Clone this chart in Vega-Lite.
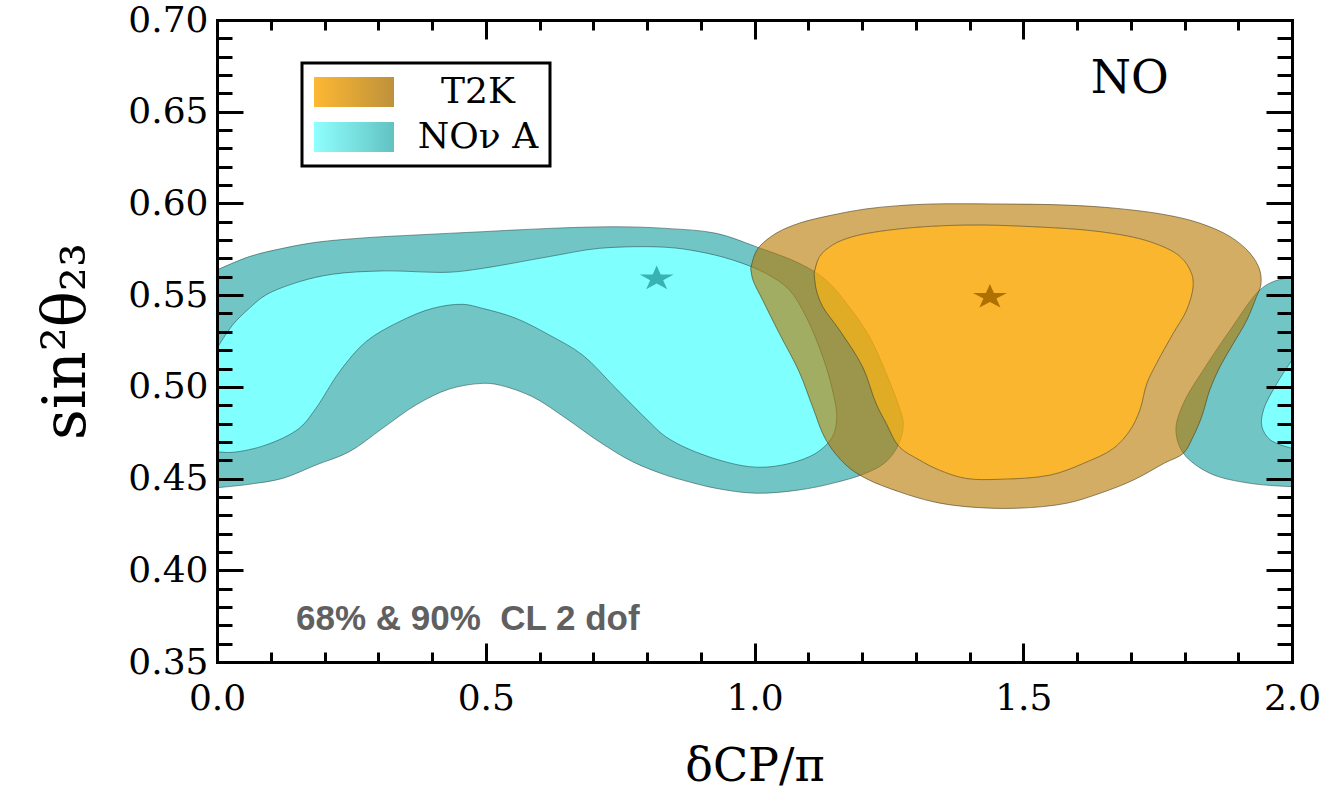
{
"$schema": "https://vega.github.io/schema/vega-lite/v6.json",
"width": 1075, "height": 642,
"autosize": {"type": "none"},
"padding": {"left": 217, "top": 20, "right": 36, "bottom": 139},
"background": "white",
"config": {"view": {"stroke": null}, "axis": {"grid": false}, "legend": {"strokeWidth": 3}},
"datasets": {
"nova": [
{"band":"outer","piece":"main","i":1,"x":0,"y":0.5637},
{"band":"outer","piece":"main","i":2,"x":0.060,"y":0.5710},
{"band":"outer","piece":"main","i":3,"x":0.122,"y":0.5755},
{"band":"outer","piece":"main","i":4,"x":0.184,"y":0.5788},
{"band":"outer","piece":"main","i":5,"x":0.277,"y":0.5813},
{"band":"outer","piece":"main","i":6,"x":0.370,"y":0.5828},
{"band":"outer","piece":"main","i":7,"x":0.494,"y":0.5846},
{"band":"outer","piece":"main","i":8,"x":0.618,"y":0.5864},
{"band":"outer","piece":"main","i":9,"x":0.742,"y":0.5873},
{"band":"outer","piece":"main","i":10,"x":0.835,"y":0.5864},
{"band":"outer","piece":"main","i":11,"x":0.929,"y":0.5837},
{"band":"outer","piece":"main","i":12,"x":1.003,"y":0.5764},
{"band":"outer","piece":"main","i":13,"x":1.083,"y":0.5674},
{"band":"outer","piece":"main","i":14,"x":1.133,"y":0.5583},
{"band":"outer","piece":"main","i":15,"x":1.176,"y":0.5437},
{"band":"outer","piece":"main","i":16,"x":1.214,"y":0.5273},
{"band":"outer","piece":"main","i":17,"x":1.245,"y":0.5074},
{"band":"outer","piece":"main","i":18,"x":1.269,"y":0.4892},
{"band":"outer","piece":"main","i":19,"x":1.277,"y":0.4801},
{"band":"outer","piece":"main","i":20,"x":1.269,"y":0.4692},
{"band":"outer","piece":"main","i":21,"x":1.245,"y":0.4592},
{"band":"outer","piece":"main","i":22,"x":1.207,"y":0.4529},
{"band":"outer","piece":"main","i":23,"x":1.145,"y":0.4474},
{"band":"outer","piece":"main","i":24,"x":1.083,"y":0.4438},
{"band":"outer","piece":"main","i":25,"x":1.003,"y":0.4420},
{"band":"outer","piece":"main","i":26,"x":0.928,"y":0.4447},
{"band":"outer","piece":"main","i":27,"x":0.866,"y":0.4492},
{"band":"outer","piece":"main","i":28,"x":0.835,"y":0.4519},
{"band":"outer","piece":"main","i":29,"x":0.773,"y":0.4592},
{"band":"outer","piece":"main","i":30,"x":0.711,"y":0.4701},
{"band":"outer","piece":"main","i":31,"x":0.649,"y":0.4829},
{"band":"outer","piece":"main","i":32,"x":0.587,"y":0.4946},
{"band":"outer","piece":"main","i":33,"x":0.525,"y":0.5010},
{"band":"outer","piece":"main","i":34,"x":0.494,"y":0.5019},
{"band":"outer","piece":"main","i":35,"x":0.432,"y":0.4988},
{"band":"outer","piece":"main","i":36,"x":0.370,"y":0.4901},
{"band":"outer","piece":"main","i":37,"x":0.308,"y":0.4774},
{"band":"outer","piece":"main","i":38,"x":0.246,"y":0.4646},
{"band":"outer","piece":"main","i":39,"x":0.184,"y":0.4574},
{"band":"outer","piece":"main","i":40,"x":0.122,"y":0.4501},
{"band":"outer","piece":"main","i":41,"x":0.060,"y":0.4469},
{"band":"outer","piece":"main","i":42,"x":0,"y":0.4450},
{"band":"outer","piece":"right","i":1,"x":2.0,"y":0.5597},
{"band":"outer","piece":"right","i":2,"x":1.968,"y":0.5577},
{"band":"outer","piece":"right","i":3,"x":1.940,"y":0.5528},
{"band":"outer","piece":"right","i":4,"x":1.885,"y":0.5310},
{"band":"outer","piece":"right","i":5,"x":1.835,"y":0.5092},
{"band":"outer","piece":"right","i":6,"x":1.798,"y":0.4910},
{"band":"outer","piece":"right","i":7,"x":1.784,"y":0.4765},
{"band":"outer","piece":"right","i":8,"x":1.798,"y":0.4638},
{"band":"outer","piece":"right","i":9,"x":1.847,"y":0.4529},
{"band":"outer","piece":"right","i":10,"x":1.922,"y":0.4474},
{"band":"outer","piece":"right","i":11,"x":2.0,"y":0.4456},
{"band":"inner","piece":"main","i":1,"x":0,"y":0.5210},
{"band":"inner","piece":"main","i":2,"x":0.029,"y":0.5337},
{"band":"inner","piece":"main","i":3,"x":0.060,"y":0.5428},
{"band":"inner","piece":"main","i":4,"x":0.091,"y":0.5501},
{"band":"inner","piece":"main","i":5,"x":0.153,"y":0.5573},
{"band":"inner","piece":"main","i":6,"x":0.215,"y":0.5614},
{"band":"inner","piece":"main","i":7,"x":0.308,"y":0.5632},
{"band":"inner","piece":"main","i":8,"x":0.432,"y":0.5625},
{"band":"inner","piece":"main","i":9,"x":0.494,"y":0.5646},
{"band":"inner","piece":"main","i":10,"x":0.618,"y":0.5710},
{"band":"inner","piece":"main","i":11,"x":0.711,"y":0.5755},
{"band":"inner","piece":"main","i":12,"x":0.835,"y":0.5761},
{"band":"inner","piece":"main","i":13,"x":0.897,"y":0.5737},
{"band":"inner","piece":"main","i":14,"x":0.959,"y":0.5692},
{"band":"inner","piece":"main","i":15,"x":1.021,"y":0.5619},
{"band":"inner","piece":"main","i":16,"x":1.065,"y":0.5528},
{"band":"inner","piece":"main","i":17,"x":1.096,"y":0.5382},
{"band":"inner","piece":"main","i":18,"x":1.127,"y":0.5164},
{"band":"inner","piece":"main","i":19,"x":1.145,"y":0.4983},
{"band":"inner","piece":"main","i":20,"x":1.153,"y":0.4837},
{"band":"inner","piece":"main","i":21,"x":1.145,"y":0.4728},
{"band":"inner","piece":"main","i":22,"x":1.114,"y":0.4638},
{"band":"inner","piece":"main","i":23,"x":1.052,"y":0.4574},
{"band":"inner","piece":"main","i":24,"x":0.990,"y":0.4565},
{"band":"inner","piece":"main","i":25,"x":0.897,"y":0.4638},
{"band":"inner","piece":"main","i":26,"x":0.835,"y":0.4728},
{"band":"inner","piece":"main","i":27,"x":0.804,"y":0.4810},
{"band":"inner","piece":"main","i":28,"x":0.742,"y":0.4992},
{"band":"inner","piece":"main","i":29,"x":0.680,"y":0.5174},
{"band":"inner","piece":"main","i":30,"x":0.618,"y":0.5283},
{"band":"inner","piece":"main","i":31,"x":0.556,"y":0.5374},
{"band":"inner","piece":"main","i":32,"x":0.494,"y":0.5428},
{"band":"inner","piece":"main","i":33,"x":0.457,"y":0.5450},
{"band":"inner","piece":"main","i":34,"x":0.401,"y":0.5428},
{"band":"inner","piece":"main","i":35,"x":0.339,"y":0.5355},
{"band":"inner","piece":"main","i":36,"x":0.277,"y":0.5246},
{"band":"inner","piece":"main","i":37,"x":0.228,"y":0.5083},
{"band":"inner","piece":"main","i":38,"x":0.184,"y":0.4883},
{"band":"inner","piece":"main","i":39,"x":0.153,"y":0.4774},
{"band":"inner","piece":"main","i":40,"x":0.091,"y":0.4683},
{"band":"inner","piece":"main","i":41,"x":0.029,"y":0.4643},
{"band":"inner","piece":"main","i":42,"x":0,"y":0.4646},
{"band":"inner","piece":"right","i":1,"x":2.0,"y":0.5146},
{"band":"inner","piece":"right","i":2,"x":1.972,"y":0.5019},
{"band":"inner","piece":"right","i":3,"x":1.947,"y":0.4874},
{"band":"inner","piece":"right","i":4,"x":1.944,"y":0.4783},
{"band":"inner","piece":"right","i":5,"x":1.960,"y":0.4710},
{"band":"inner","piece":"right","i":6,"x":2.0,"y":0.4665}
],
"t2k": [
{"ring":"outer","i":1,"b":1,"x":0.993,"y":0.5646},
{"ring":"outer","i":2,"b":2,"x":1.000,"y":0.5719},
{"ring":"outer","i":3,"b":3,"x":1.009,"y":0.5764},
{"ring":"outer","i":4,"b":4,"x":1.040,"y":0.5837},
{"ring":"outer","i":5,"b":5,"x":1.083,"y":0.5892},
{"ring":"outer","i":6,"b":6,"x":1.145,"y":0.5937},
{"ring":"outer","i":7,"b":7,"x":1.207,"y":0.5970},
{"ring":"outer","i":8,"b":8,"x":1.269,"y":0.5988},
{"ring":"outer","i":9,"b":9,"x":1.332,"y":0.5997},
{"ring":"outer","i":10,"b":10,"x":1.455,"y":0.5997},
{"ring":"outer","i":11,"b":11,"x":1.580,"y":0.5991},
{"ring":"outer","i":12,"b":12,"x":1.674,"y":0.5973},
{"ring":"outer","i":13,"b":13,"x":1.767,"y":0.5937},
{"ring":"outer","i":14,"b":14,"x":1.829,"y":0.5892},
{"ring":"outer","i":15,"b":15,"x":1.885,"y":0.5819},
{"ring":"outer","i":16,"b":16,"x":1.922,"y":0.5728},
{"ring":"outer","i":17,"b":17,"x":1.940,"y":0.5637},
{"ring":"outer","i":18,"b":18,"x":1.942,"y":0.5555},
{"ring":"outer","i":19,"b":19,"x":1.934,"y":0.5492},
{"ring":"outer","i":20,"b":20,"x":1.916,"y":0.5364},
{"ring":"outer","i":21,"b":21,"x":1.891,"y":0.5237},
{"ring":"outer","i":22,"b":22,"x":1.866,"y":0.5110},
{"ring":"outer","i":23,"b":23,"x":1.847,"y":0.4983},
{"ring":"outer","i":24,"b":24,"x":1.832,"y":0.4837},
{"ring":"outer","i":25,"b":25,"x":1.816,"y":0.4728},
{"ring":"outer","i":26,"b":26,"x":1.798,"y":0.4638},
{"ring":"outer","i":27,"b":27,"x":1.763,"y":0.4585},
{"ring":"outer","i":28,"b":28,"x":1.705,"y":0.4492},
{"ring":"outer","i":29,"b":29,"x":1.643,"y":0.4420},
{"ring":"outer","i":30,"b":30,"x":1.580,"y":0.4365},
{"ring":"outer","i":31,"b":31,"x":1.487,"y":0.4338},
{"ring":"outer","i":32,"b":32,"x":1.393,"y":0.4347},
{"ring":"outer","i":33,"b":33,"x":1.332,"y":0.4374},
{"ring":"outer","i":34,"b":34,"x":1.269,"y":0.4428},
{"ring":"outer","i":35,"b":35,"x":1.207,"y":0.4501},
{"ring":"outer","i":36,"b":36,"x":1.170,"y":0.4574},
{"ring":"outer","i":37,"b":37,"x":1.133,"y":0.4710},
{"ring":"outer","i":38,"b":38,"x":1.108,"y":0.4892},
{"ring":"outer","i":39,"b":39,"x":1.083,"y":0.5083},
{"ring":"outer","i":40,"b":40,"x":1.046,"y":0.5292},
{"ring":"outer","i":41,"b":41,"x":1.015,"y":0.5474},
{"ring":"outer","i":42,"b":42,"x":0.997,"y":0.5583},
{"ring":"outer","i":43,"b":43,"x":0.993,"y":0.5646},
{"ring":"slit","i":0,"b":44,"x":0.9942,"y":0.56457},
{"ring":"slit","i":0,"b":45,"x":1.1098,"y":0.56193},
{"ring":"inner","i":1,"b":78,"x":1.111,"y":0.5619},
{"ring":"inner","i":2,"b":77,"x":1.121,"y":0.5710},
{"ring":"inner","i":3,"b":76,"x":1.145,"y":0.5773},
{"ring":"inner","i":4,"b":75,"x":1.183,"y":0.5819},
{"ring":"inner","i":5,"b":74,"x":1.269,"y":0.5861},
{"ring":"inner","i":6,"b":73,"x":1.393,"y":0.5882},
{"ring":"inner","i":7,"b":72,"x":1.518,"y":0.5873},
{"ring":"inner","i":8,"b":71,"x":1.643,"y":0.5846},
{"ring":"inner","i":9,"b":70,"x":1.736,"y":0.5791},
{"ring":"inner","i":10,"b":69,"x":1.792,"y":0.5710},
{"ring":"inner","i":11,"b":68,"x":1.813,"y":0.5619},
{"ring":"inner","i":12,"b":67,"x":1.816,"y":0.5546},
{"ring":"inner","i":13,"b":66,"x":1.804,"y":0.5419},
{"ring":"inner","i":14,"b":65,"x":1.779,"y":0.5292},
{"ring":"inner","i":15,"b":64,"x":1.748,"y":0.5128},
{"ring":"inner","i":16,"b":63,"x":1.730,"y":0.5019},
{"ring":"inner","i":17,"b":62,"x":1.717,"y":0.4874},
{"ring":"inner","i":18,"b":61,"x":1.699,"y":0.4765},
{"ring":"inner","i":19,"b":60,"x":1.668,"y":0.4665},
{"ring":"inner","i":20,"b":59,"x":1.612,"y":0.4583},
{"ring":"inner","i":21,"b":58,"x":1.550,"y":0.4519},
{"ring":"inner","i":22,"b":57,"x":1.455,"y":0.4496},
{"ring":"inner","i":23,"b":56,"x":1.393,"y":0.4501},
{"ring":"inner","i":24,"b":55,"x":1.344,"y":0.4546},
{"ring":"inner","i":25,"b":54,"x":1.307,"y":0.4601},
{"ring":"inner","i":26,"b":53,"x":1.269,"y":0.4674},
{"ring":"inner","i":27,"b":52,"x":1.245,"y":0.4801},
{"ring":"inner","i":28,"b":51,"x":1.226,"y":0.4910},
{"ring":"inner","i":29,"b":50,"x":1.201,"y":0.5110},
{"ring":"inner","i":30,"b":49,"x":1.158,"y":0.5310},
{"ring":"inner","i":31,"b":48,"x":1.127,"y":0.5437},
{"ring":"inner","i":32,"b":47,"x":1.115,"y":0.5528},
{"ring":"inner","i":33,"b":46,"x":1.111,"y":0.5619},
{"ring":"slit","i":0,"b":79,"x":1.1098,"y":0.56193},
{"ring":"slit","i":0,"b":80,"x":0.9942,"y":0.56457},
{"ring":"slit","i":0,"b":81,"x":0.993,"y":0.5646}
],
"bestfit": [
{"exp":"NOvA","x":0.818,"y":0.559},
{"exp":"T2K","x":1.438,"y":0.549}
]
},
"resolve": {"axis": {"x": "independent", "y": "independent"}, "scale": {"shape": "independent"}, "legend": {"shape": "independent"}},
"layer": [
{
"data": {"name": "nova"},
"transform": [{"filter": "datum.band === 'outer'"}],
"mark": {"type": "line", "interpolate": "catmull-rom", "fill": "#71C5C5", "stroke": "#1E3C3C", "strokeOpacity": 0.5, "strokeWidth": 1},
"encoding": {
"x": {"field": "x", "type": "quantitative", "scale": {"domain": [0, 2], "nice": false, "zero": false},
 "axis": {"orient": "bottom", "values": [0, 0.5, 1, 1.5, 2], "format": ".1f", "tickSize": -19, "tickWidth": 3, "tickColor": "black", "domain": true, "domainColor": "black", "domainWidth": 3, "domainCap": "square", "labelFont": "DejaVu Serif", "labelFontSize": 36, "labelColor": "black", "labelPadding": 38, "labelFlush": false, "labelOverlap": false, "title": "δCP/π", "titleFont": "DejaVu Serif", "titleFontSize": 46, "titleFontWeight": "normal", "titleColor": "black", "titlePadding": 28, "zindex": 1}},
"y": {"field": "y", "type": "quantitative", "scale": {"domain": [0.35, 0.7], "nice": false, "zero": false},
 "axis": {"orient": "left", "values": [0.35, 0.4, 0.45, 0.5, 0.55, 0.6, 0.65, 0.7], "format": ".2f", "tickSize": -26, "tickWidth": 3, "tickColor": "black", "domain": true, "domainColor": "black", "domainWidth": 3, "domainCap": "square", "labelFont": "DejaVu Serif", "labelFontSize": 36, "labelColor": "black", "labelPadding": 35, "labelFlush": false, "labelOverlap": false, "title": "sin²θ₂₃", "titleFont": "DejaVu Serif", "titleFontSize": 60, "titleFontWeight": "normal", "titleColor": "black", "titlePadding": 30, "zindex": 1}},
"detail": {"field": "piece"},
"order": {"field": "i", "type": "quantitative"}
}
},
{
"data": {"name": "nova"},
"transform": [{"filter": "datum.band === 'inner'"}],
"mark": {"type": "line", "interpolate": "catmull-rom", "fill": "#80FFFF", "stroke": "#1E3C3C", "strokeOpacity": 0.5, "strokeWidth": 1},
"encoding": {
"x": {"field": "x", "type": "quantitative", "scale": {"domain": [0, 2], "nice": false, "zero": false},
 "axis": {"orient": "bottom", "values": [0, 0.1, 0.2, 0.3, 0.4, 0.5, 0.6, 0.7, 0.8, 0.9, 1, 1.1, 1.2, 1.3, 1.4, 1.5, 1.6, 1.7, 1.8, 1.9, 2], "tickSize": -10, "tickWidth": 3, "tickColor": "black", "domain": false, "labels": false, "title": null, "zindex": 1}},
"y": {"field": "y", "type": "quantitative", "scale": {"domain": [0.35, 0.7], "nice": false, "zero": false},
 "axis": {"orient": "left", "values": [0.35, 0.36, 0.37, 0.38, 0.39, 0.4, 0.41, 0.42, 0.43, 0.44, 0.45, 0.46, 0.47, 0.48, 0.49, 0.5, 0.51, 0.52, 0.53, 0.54, 0.55, 0.56, 0.57, 0.58, 0.59, 0.6, 0.61, 0.62, 0.63, 0.64, 0.65, 0.66, 0.67, 0.68, 0.69, 0.7], "tickSize": -15, "tickWidth": 3, "tickColor": "black", "domain": false, "labels": false, "title": null, "zindex": 1}},
"detail": {"field": "piece"},
"order": {"field": "i", "type": "quantitative"}
}
},
{
"data": {"name": "t2k"},
"mark": {"type": "line", "interpolate": "catmull-rom", "fill": "#B57900", "fillOpacity": 0.61, "strokeWidth": 0, "strokeOpacity": 0},
"encoding": {
"x": {"field": "x", "type": "quantitative", "scale": {"domain": [0, 2], "nice": false, "zero": false},
 "axis": {"orient": "top", "values": [0, 0.5, 1, 1.5, 2], "tickSize": -19, "tickWidth": 3, "tickColor": "black", "domain": true, "domainColor": "black", "domainWidth": 3, "domainCap": "square", "labels": false, "title": null, "zindex": 1}},
"y": {"field": "y", "type": "quantitative", "scale": {"domain": [0.35, 0.7], "nice": false, "zero": false},
 "axis": {"orient": "right", "values": [0.35, 0.4, 0.45, 0.5, 0.55, 0.6, 0.65, 0.7], "tickSize": -26, "tickWidth": 3, "tickColor": "black", "domain": true, "domainColor": "black", "domainWidth": 3, "domainCap": "square", "labels": false, "title": null, "zindex": 1}},
"order": {"field": "b", "type": "quantitative"}
}
},
{
"data": {"name": "t2k"},
"transform": [{"filter": "datum.ring === 'inner'"}],
"mark": {"type": "line", "interpolate": "catmull-rom", "fill": "#FAA500", "fillOpacity": 0.81, "strokeWidth": 0, "strokeOpacity": 0},
"encoding": {
"x": {"field": "x", "type": "quantitative", "scale": {"domain": [0, 2], "nice": false, "zero": false},
 "axis": {"orient": "top", "values": [0, 0.1, 0.2, 0.3, 0.4, 0.5, 0.6, 0.7, 0.8, 0.9, 1, 1.1, 1.2, 1.3, 1.4, 1.5, 1.6, 1.7, 1.8, 1.9, 2], "tickSize": -10, "tickWidth": 3, "tickColor": "black", "domain": false, "labels": false, "title": null, "zindex": 1}},
"y": {"field": "y", "type": "quantitative", "scale": {"domain": [0.35, 0.7], "nice": false, "zero": false},
 "axis": {"orient": "right", "values": [0.35, 0.36, 0.37, 0.38, 0.39, 0.4, 0.41, 0.42, 0.43, 0.44, 0.45, 0.46, 0.47, 0.48, 0.49, 0.5, 0.51, 0.52, 0.53, 0.54, 0.55, 0.56, 0.57, 0.58, 0.59, 0.6, 0.61, 0.62, 0.63, 0.64, 0.65, 0.66, 0.67, 0.68, 0.69, 0.7], "tickSize": -15, "tickWidth": 3, "tickColor": "black", "domain": false, "labels": false, "title": null, "zindex": 1}},
"order": {"field": "i", "type": "quantitative"}
}
},
{
"data": {"name": "t2k"},
"transform": [{"filter": "datum.ring !== 'slit'"}],
"mark": {"type": "line", "interpolate": "catmull-rom", "stroke": "#3C3214", "strokeOpacity": 0.55, "strokeWidth": 1},
"encoding": {
"x": {"field": "x", "type": "quantitative", "scale": {"domain": [0, 2], "nice": false, "zero": false}, "axis": null},
"y": {"field": "y", "type": "quantitative", "scale": {"domain": [0.35, 0.7], "nice": false, "zero": false}, "axis": null},
"detail": {"field": "ring"},
"order": {"field": "i", "type": "quantitative"}
}
},
{
"data": {"name": "bestfit"},
"transform": [{"filter": "datum.exp === 'NOvA'"}],
"mark": {"type": "point", "shape": "M0,-0.73L0.2245,-0.2256L0.951,-0.2256L0.3633,0.0861L0.5878,0.5906L0,0.2789L-0.5878,0.5906L-0.3633,0.0861L-0.951,-0.2256L-0.2245,-0.2256Z", "size": 1280, "filled": true, "fill": "#38B2B2", "opacity": 1, "strokeWidth": 0},
"encoding": {
"x": {"field": "x", "type": "quantitative", "scale": {"domain": [0, 2], "nice": false, "zero": false}, "axis": null},
"y": {"field": "y", "type": "quantitative", "scale": {"domain": [0.35, 0.7], "nice": false, "zero": false}, "axis": null}
}
},
{
"data": {"name": "bestfit"},
"transform": [{"filter": "datum.exp === 'T2K'"}],
"mark": {"type": "point", "shape": "M0,-0.73L0.2245,-0.2256L0.951,-0.2256L0.3633,0.0861L0.5878,0.5906L0,0.2789L-0.5878,0.5906L-0.3633,0.0861L-0.951,-0.2256L-0.2245,-0.2256Z", "size": 1280, "filled": true, "fill": "#B07000", "opacity": 1, "strokeWidth": 0},
"encoding": {
"x": {"field": "x", "type": "quantitative", "scale": {"domain": [0, 2], "nice": false, "zero": false}, "axis": null},
"y": {"field": "y", "type": "quantitative", "scale": {"domain": [0.35, 0.7], "nice": false, "zero": false}, "axis": null}
}
},
{
"data": {"values": [{}]},
"mark": {"type": "text", "text": "68% & 90%\u00a0 CL 2 dof", "font": "Liberation Sans", "fontWeight": "bold", "fontSize": 35, "fill": "#606060", "align": "left", "baseline": "alphabetic"},
"encoding": {
"x": {"datum": 0.147, "type": "quantitative", "scale": {"domain": [0, 2], "nice": false, "zero": false}, "axis": null},
"y": {"datum": 0.3674, "type": "quantitative", "scale": {"domain": [0.35, 0.7], "nice": false, "zero": false}, "axis": null}
}
},
{
"data": {"values": [{}]},
"mark": {"type": "text", "text": "NO", "font": "DejaVu Serif", "fontWeight": "normal", "fontSize": 46, "fill": "black", "align": "center", "baseline": "alphabetic"},
"encoding": {
"x": {"datum": 1.698, "type": "quantitative", "scale": {"domain": [0, 2], "nice": false, "zero": false}, "axis": null},
"y": {"datum": 0.6602, "type": "quantitative", "scale": {"domain": [0.35, 0.7], "nice": false, "zero": false}, "axis": null}
}
},
{
"data": {"values": [{"exp": "T2K"}, {"exp": "NOν A"}]},
"mark": {"type": "point", "filled": true, "opacity": 0, "fill": {"gradient": "linear", "x1": 0, "y1": 0, "x2": 1, "y2": 0, "stops": [{"offset": 0, "color": "#FDB833"}, {"offset": 1, "color": "#BE913A"}]}},
"encoding": {
"shape": {"field": "exp", "type": "nominal",
 "scale": {"domain": ["T2K", "NOν A"], "range": ["M-2.353,-0.882H2.353V0.882H-2.353Z", "M-2.353,-0.882H2.353V0.882H-2.353Z"]},
 "legend": {"orient": "none", "legendX": 85, "legendY": 43, "title": null, "direction": "vertical",
  "symbolSize": 1156, "symbolStrokeWidth": 0, "symbolOffset": 23, "symbolOpacity": 1,
  "labelFont": "DejaVu Serif", "labelFontSize": 36, "labelColor": "black", "labelAlign": "center", "labelOffset": 106,
  "rowPadding": 9, "padding": 11, "strokeColor": "black", "fillColor": "white"}
}
}
},
{
"data": {"values": [{"exp": "NOν A"}]},
"mark": {"type": "point", "filled": true, "opacity": 0, "fill": {"gradient": "linear", "x1": 0, "y1": 0, "x2": 1, "y2": 0, "stops": [{"offset": 0, "color": "#90FFFF"}, {"offset": 1, "color": "#62C2C2"}]}},
"encoding": {
"shape": {"field": "exp", "type": "nominal",
 "scale": {"domain": ["NOν A"], "range": ["M-2.353,-0.882H2.353V0.882H-2.353Z"]},
 "legend": {"orient": "none", "legendX": 85, "legendY": 88, "title": null, "direction": "vertical",
  "symbolSize": 1156, "symbolStrokeWidth": 0, "symbolOffset": 23, "symbolOpacity": 1,
  "labelFont": "DejaVu Serif", "labelFontSize": 36, "labelColor": "black", "labelOpacity": 0, "labelAlign": "center", "labelOffset": 106,
  "rowPadding": 9, "padding": 11, "strokeColor": "transparent"}
}
}
}
]
}
